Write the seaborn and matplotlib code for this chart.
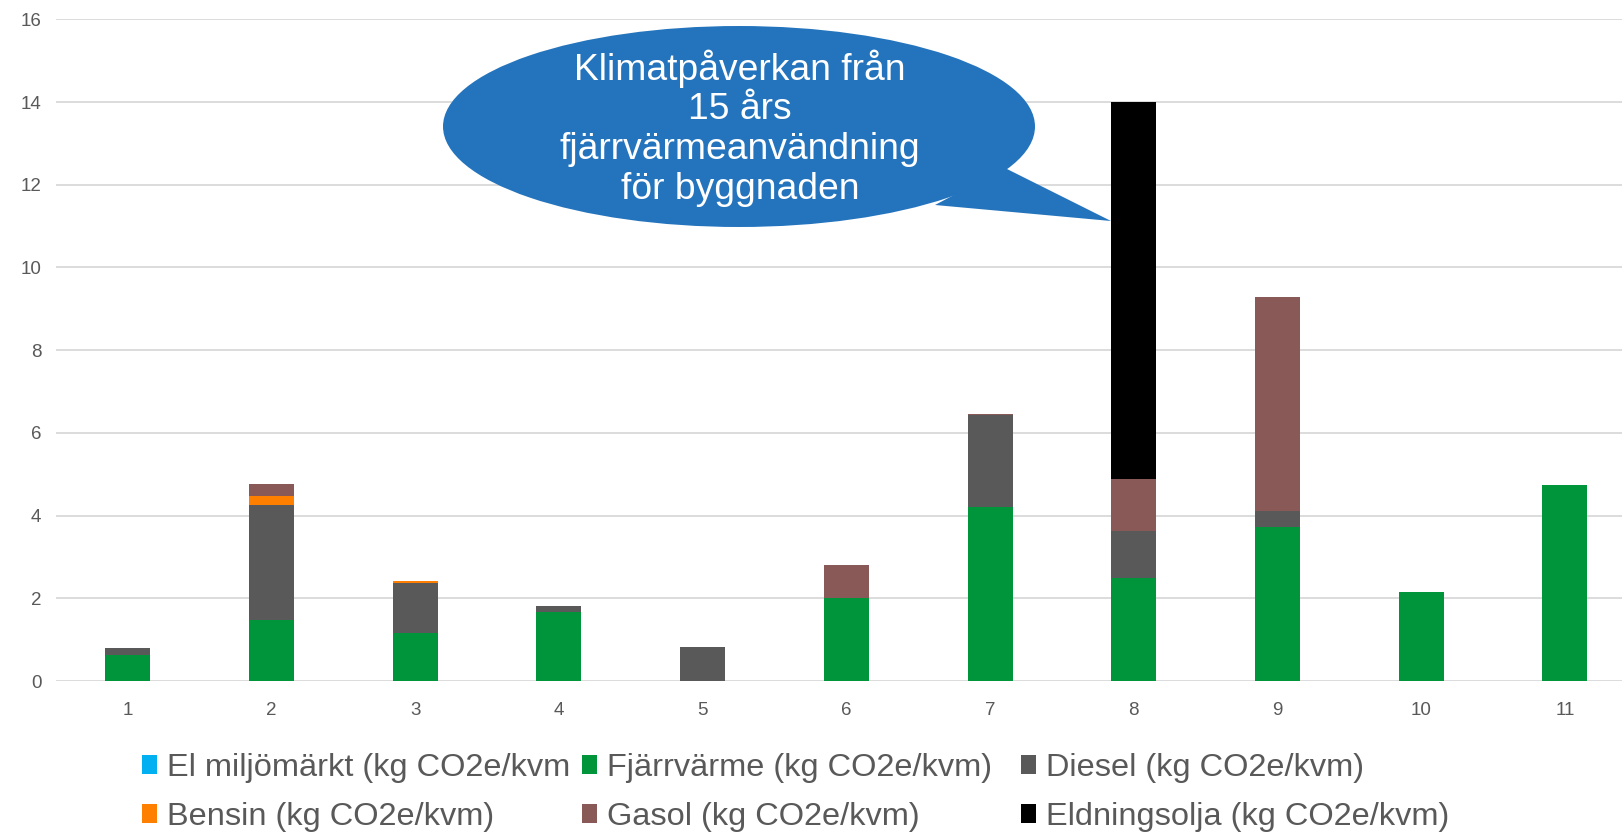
import numpy as np
import pandas as pd
import matplotlib
matplotlib.use("Agg")
import matplotlib.pyplot as plt
from matplotlib.patches import Ellipse, Polygon
import seaborn as sns

# ---- data ----
categories = ["1", "2", "3", "4", "5", "6", "7", "8", "9", "10", "11"]
el_miljomarkt = [0, 0, 0, 0, 0, 0, 0, 0, 0, 0, 0]
fjarrvarme = [0.63, 1.48, 1.17, 1.66, 0.0, 2.00, 4.21, 2.48, 3.73, 2.16, 4.75]
diesel = [0.16, 2.78, 1.19, 0.15, 0.815, 0.0, 2.23, 1.15, 0.38, 0.0, 0.0]
bensin = [0.0, 0.21, 0.07, 0.0, 0.0, 0.0, 0.0, 0.0, 0.0, 0.0, 0.0]
gasol = [0.0, 0.29, 0.0, 0.0, 0.0, 0.80, 0.02, 1.25, 5.17, 0.0, 0.0]
eldningsolja = [0.0, 0.0, 0.0, 0.0, 0.0, 0.0, 0.0, 9.12, 0.0, 0.0, 0.0]

series_labels = ["El miljömärkt (kg CO2e/kvm", "Fjärrvärme (kg CO2e/kvm)", "Diesel (kg CO2e/kvm)",
                 "Bensin (kg CO2e/kvm)", "Gasol (kg CO2e/kvm)", "Eldningsolja (kg CO2e/kvm)"]
series_values = [el_miljomarkt, fjarrvarme, diesel, bensin, gasol, eldningsolja]
series_colors = ["#00B0F0", "#00953A", "#595959", "#FF8000", "#895958", "#000000"]
y_ticks = [0, 2, 4, 6, 8, 10, 12, 14, 16]
callout_text = "Klimatpåverkan från\n15 års\nfjärrvärmeanvändning\nför byggnaden"

sns.set_theme(style="white")
plt.rcParams["font.family"] = ["Liberation Sans", "DejaVu Sans"]

W, H = 1622, 833
fig = plt.figure(figsize=(W / 100, H / 100), dpi=100)

def fx(px):
    return px / W

def fy(py):
    return 1 - py / H

slot = 143.7
ax_left, ax_bottom_px, ax_top_px = 56, 681, 19.3
ax = fig.add_axes([fx(ax_left), fy(ax_bottom_px), 11 * slot / W, (ax_bottom_px - ax_top_px) / H])

bottom = np.zeros(len(categories))
handles = []
for label, vals, col in zip(series_labels, series_values, series_colors):
    df = pd.DataFrame({"cat": categories, "val": vals})
    sns.barplot(data=df, x="cat", y="val", order=categories, color=col, width=0.313,
                bottom=bottom.copy(), errorbar=None, ax=ax, linewidth=0, saturation=1, zorder=3)
    handles.append(plt.Rectangle((0, 0), 1, 1, facecolor=col, edgecolor="none"))
    bottom = bottom + np.array(vals)

ax.set_xlim(-0.5, 10.5)
ax.set_ylim(0, 16)
ax.set_yticks(y_ticks)
ax.set_yticklabels([str(t) for t in y_ticks])
ax.set_xlabel("")
ax.set_ylabel("")
for s in ax.spines.values():
    s.set_visible(False)
ax.grid(axis="y", color="#D9D9D9", linewidth=1.3, zorder=0)
ax.grid(axis="x", visible=False)
ax.set_axisbelow(True)
ax.tick_params(axis="both", length=0, labelsize=13.5, labelcolor="#595959")
ax.tick_params(axis="y", pad=10.5)
ax.tick_params(axis="x", pad=15)

# ---- callout ----
blue = "#2474BD"
ell = Ellipse((fx(739), fy(126.5)), 592 / W, 201 / H, transform=fig.transFigure,
              facecolor=blue, edgecolor="none", zorder=10)
fig.patches.append(ell)
tail = Polygon([(fx(1005), fy(168)), (fx(1111), fy(221)), (fx(935), fy(205))],
               closed=True, transform=fig.transFigure, facecolor=blue, edgecolor="none", zorder=10)
fig.patches.append(tail)
fig.text(fx(740), fy(128), callout_text, ha="center", va="center", color="white",
         fontsize=26.8, linespacing=1.175, zorder=11)

# ---- legend: three columns ----
col_x = [142, 582, 1021]
col_items = [(0, 3), (1, 4), (2, 5)]
for cx, (i, j) in zip(col_x, col_items):
    fig.legend([handles[i], handles[j]], [series_labels[i], series_labels[j]],
               loc="center left", bbox_to_anchor=(fx(cx), fy(792.5)), bbox_transform=fig.transFigure,
               frameon=False, fontsize=23.4, labelcolor="#595959", handlelength=0.45,
               handleheight=0.5, handletextpad=0.32, labelspacing=0.58, borderpad=0,
               borderaxespad=0)

fig.savefig("out.png", dpi=100)
